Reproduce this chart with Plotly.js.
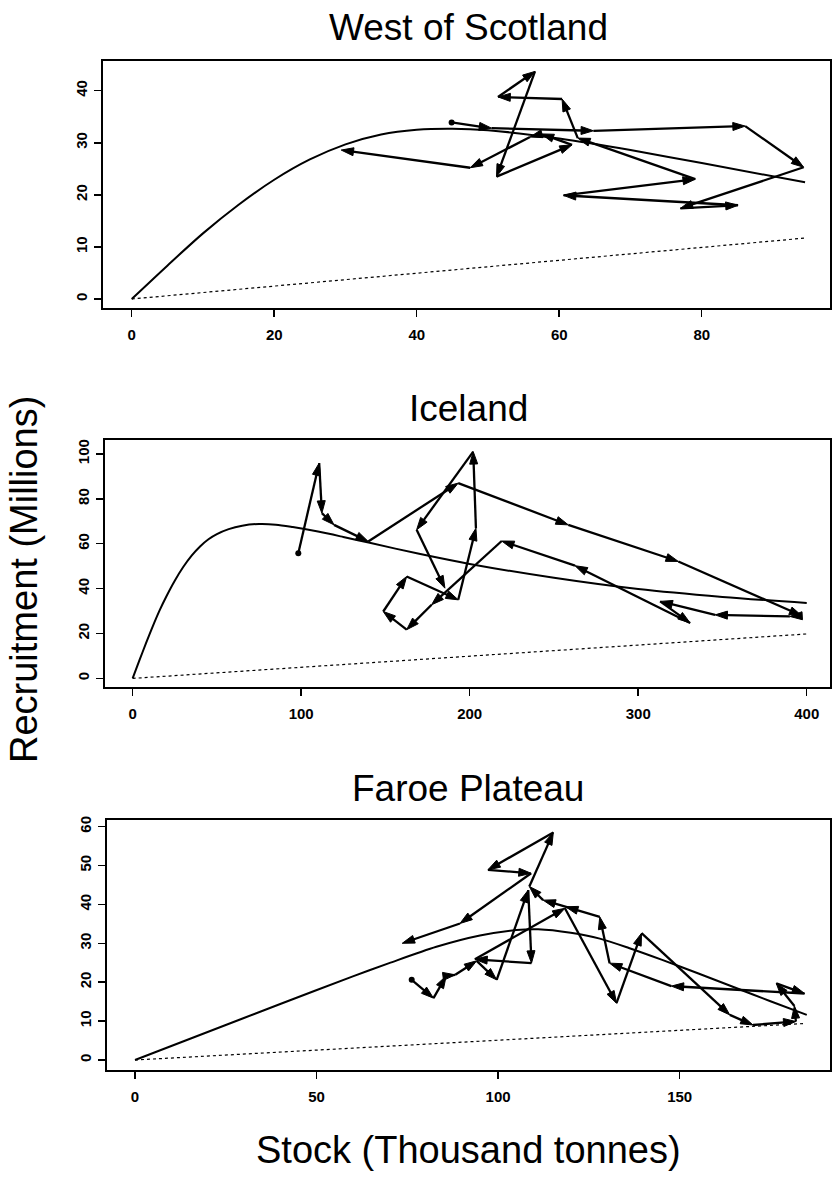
<!DOCTYPE html>
<html><head><meta charset="utf-8">
<script src="https://cdn.plot.ly/plotly-3.0.1.min.js"></script>
<style>html,body{margin:0;padding:0;background:#fff}#chart{width:833px;height:1185px}</style>
</head><body><div id="chart"></div>
<script>
// ---- West of Scotland ----
const wosStock = [44.9, 50.5, 64.8, 86.1, 94.3, 77.0, 85.1, 60.6, 79.1, 62.6, 60.4, 51.4, 56.6, 51.2, 61.8, 57.5, 55.9, 47.5, 29.4];
const wosRec   = [33.9, 32.8, 32.3, 33.2, 25.3, 17.4, 18.0, 19.9, 23.0, 30.9, 38.4, 38.8, 43.7, 23.5, 29.6, 31.7, 31.1, 25.2, 28.6];
const wosCurveStock = [0, 5, 10, 15, 20, 25, 30, 35, 40, 45, 50, 60, 70, 80, 94.5];
const wosCurveRec   = [0, 6.4, 12.6, 18.1, 22.9, 26.8, 29.7, 31.6, 32.5, 32.7, 32.4, 30.8, 28.6, 26.1, 22.4];
const wosLineStock = [0, 94.5];
const wosLineRec   = [0, 11.7];
const wosXTicks = [0, 20, 40, 60, 80];
const wosYTicks = [0, 10, 20, 30, 40];

// ---- Iceland ----
const icStock = [98.3, 110.7, 112.3, 119.5, 139.8, 193.2, 258.5, 323.8, 397, 390, 345.6, 313, 330.8, 262.5, 219, 177.4, 162.6, 148.7, 162.6, 193.2, 203.7, 202.1, 168.5, 185.3];
const icRec   = [55.8, 95.9, 73.6, 68.4, 61.0, 87.0, 68.4, 52.1, 27.9, 27.6, 28.3, 34.3, 24.7, 50.2, 61.2, 32.8, 21.7, 29.8, 45.4, 35.0, 66.9, 101, 66.2, 40.2];
const icCurveStock = [0, 4, 8, 12, 16, 20, 25, 30, 35, 40, 45, 50, 57, 65, 75, 85, 95, 110, 125, 140, 170, 200, 250, 300, 350, 400];
const icCurveRec   = [0, 8, 15.8, 23.3, 30.3, 36.5, 43.5, 49.6, 54.7, 58.8, 62, 64.3, 66.5, 68, 68.8, 68.5, 67.4, 65.4, 63, 60.5, 55.5, 51.0, 44.8, 39.8, 36.3, 33.6];
const icLineStock = [0, 400];
const icLineRec   = [0, 19.8];
const icXTicks = [0, 100, 200, 300, 400];
const icYTicks = [0, 20, 40, 60, 80, 100];

// ---- Faroe Plateau ----
const frStock = [76.2, 82.2, 85.7, 88.2, 94.1, 99.6, 108.3, 109.2, 93.6, 118.4, 132.6, 139.5, 163.8, 170.2, 182, 181.6, 176.6, 184.4, 147.7, 130.7, 128, 118.6, 112.4, 108.6, 115.2, 97.2, 109.1, 89.5, 73.6];
const frRec   = [20.6, 15.9, 21.6, 21.9, 25.5, 20.6, 43.7, 24.9, 25.9, 39.0, 14.6, 32.6, 11.6, 9.0, 9.9, 13.9, 19.7, 17.1, 19.0, 24.9, 36.8, 39.4, 41.1, 44.6, 58.5, 48.9, 48.0, 35.1, 30.0];
const frCurveStock = [0, 20, 40, 60, 70, 83, 95, 105, 111, 120, 128, 136, 145, 155, 165, 175, 185];
const frCurveRec   = [0, 7.2, 14.4, 21.5, 24.9, 29.1, 32.0, 33.4, 33.6, 32.7, 31.2, 28.8, 25.8, 22.3, 18.7, 15.1, 11.6];
const frLineStock = [0, 184.8];
const frLineRec   = [0, 9.4];
const frXTicks = [0, 50, 100, 150];
const frYTicks = [0, 10, 20, 30, 40, 50, 60];

const titles = ["West of Scotland", "Iceland", "Faroe Plateau"];
const yTitle = "Recruitment (Millions)";
const xTitle = "Stock (Thousand tonnes)";

const W = 833, H = 1185;
const FONT = "Liberation Sans, Arial, Helvetica, sans-serif";

const panels = [
  {s: wosStock, r: wosRec, cs: wosCurveStock, cr: wosCurveRec, ls: wosLineStock, lr: wosLineRec,
   xt: wosXTicks, yt: wosYTicks, xr: [-4.03, 98.0], yr: [-1.73, 45.7], box: [103, 830, 61, 308], ty: 28},
  {s: icStock, r: icRec, cs: icCurveStock, cr: icCurveRec, ls: icLineStock, lr: icLineRec,
   xt: icXTicks, yt: icYTicks, xr: [-16.4, 413.8], yr: [-3.83, 106.2], box: [105, 830, 440, 687], ty: 408},
  {s: frStock, r: frRec, cs: frCurveStock, cr: frCurveRec, ls: frLineStock, lr: frLineRec,
   xt: frXTicks, yt: frYTicks, xr: [-7.79, 191.4], yr: [-2.57, 61.7], box: [106.7, 830, 820, 1070], ty: 788}
];

const traces = [];
const layout = {
  width: W, height: H, margin: {l: 0, r: 0, t: 0, b: 0},
  paper_bgcolor: '#fff', plot_bgcolor: '#fff', showlegend: false,
  annotations: []
};

panels.forEach((p, i) => {
  const n = i === 0 ? '' : String(i + 1);
  const xa = 'x' + n, ya = 'y' + n;
  traces.push({x: p.cs, y: p.cr, xaxis: xa, yaxis: ya, mode: 'lines',
    line: {color: '#000', width: 2, shape: 'spline', smoothing: 0.8}, hoverinfo: 'skip'});
  traces.push({x: p.ls, y: p.lr, xaxis: xa, yaxis: ya, mode: 'lines',
    line: {color: '#000', width: 1.2, dash: 'dot'}, hoverinfo: 'skip'});
  // trajectory with arrowheads pointing to each following year
  traces.push({x: p.s, y: p.r, xaxis: xa, yaxis: ya, mode: 'lines+markers',
    line: {color: '#000', width: 2.3},
    marker: {symbol: 'arrow', size: 13, color: '#000', opacity: 1, angleref: 'previous',
             line: {width: 1, color: '#000'}}});
  // starting point dot
  traces.push({x: p.s.slice(0, 1), y: p.r.slice(0, 1), xaxis: xa, yaxis: ya, mode: 'markers',
    marker: {symbol: 'circle', size: 6, color: '#000'}});
  const [l, rr, t, b] = p.box;
  const axCommon = {showline: true, mirror: true, linewidth: 2, linecolor: '#000',
    ticks: 'outside', ticklen: 7, tickwidth: 1.5, tickcolor: '#000',
    showgrid: false, zeroline: false,
    tickfont: {family: FONT, size: 15, weight: 'bold', color: '#000'}};
  layout['xaxis' + n] = Object.assign({}, axCommon, {
    domain: [l / W, rr / W], range: p.xr, tickvals: p.xt, ticktext: p.xt.map(String),
    anchor: ya, ticklabelstandoff: 5});
  layout['yaxis' + n] = Object.assign({}, axCommon, {
    domain: [1 - b / H, 1 - t / H], range: p.yr, tickvals: p.yt, ticktext: p.yt.map(String),
    anchor: xa, tickangle: -90, ticklabelstandoff: 1});
  layout.annotations.push({text: titles[i], xref: 'paper', yref: 'paper',
    x: 468 / W, y: 1 - p.ty / H, xanchor: 'center', yanchor: 'middle', showarrow: false,
    font: {family: FONT, size: 37, color: '#000'}});
});

layout.annotations.push({text: yTitle, xref: 'paper', yref: 'paper', x: 24 / W, y: 1 - 580 / H,
  xanchor: 'center', yanchor: 'middle', textangle: -90, showarrow: false,
  font: {family: FONT, size: 38, color: '#000'}});
layout.annotations.push({text: xTitle, xref: 'paper', yref: 'paper', x: 468 / W, y: 1 - 1150 / H,
  xanchor: 'center', yanchor: 'middle', showarrow: false,
  font: {family: FONT, size: 38, color: '#000'}});

Plotly.newPlot('chart', traces, layout, {staticPlot: true, displayModeBar: false});
</script></body></html>
